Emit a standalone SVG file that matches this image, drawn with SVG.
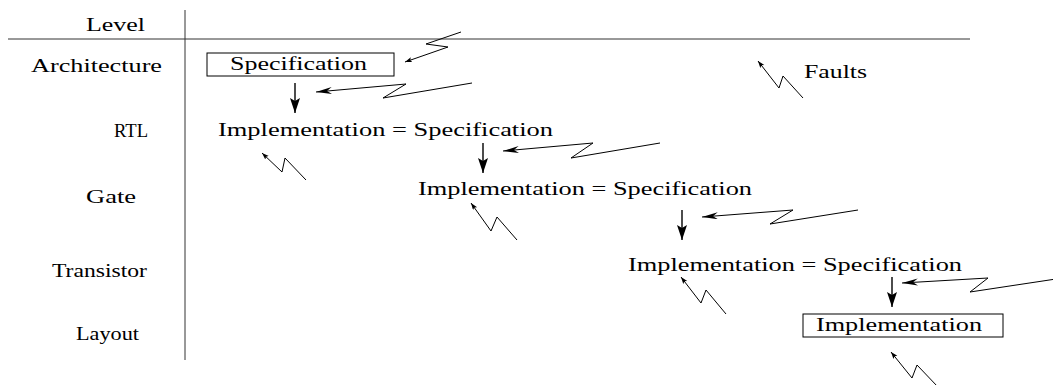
<svg xmlns="http://www.w3.org/2000/svg" width="1053" height="385" viewBox="0 0 1053 385">
<style>
text{font-family:"Liberation Serif","Times New Roman",serif;font-size:18px;fill:#000}
.ln{fill:none;stroke:#000;stroke-width:1}
.dn{fill:none;stroke:#000;stroke-width:1.4}
.box{fill:#fff;stroke:#000;stroke-width:1}
.ax{stroke:#333;stroke-width:1;fill:none}
</style>
<defs>
<marker id="big" markerUnits="userSpaceOnUse" markerWidth="18" markerHeight="8" refX="16" refY="3.5" orient="auto">
<path d="M0,0 L16,3.5 L0,7 L5,3.5 z" fill="#000"/>
</marker>
<marker id="down" markerUnits="userSpaceOnUse" markerWidth="16" markerHeight="11" refX="15" refY="5" orient="auto">
<path d="M0,0 L15,5 L0,10 L3,5 z" fill="#000"/>
</marker>
<marker id="small" markerUnits="userSpaceOnUse" markerWidth="8" markerHeight="6" refX="7" refY="2.5" orient="auto">
<path d="M0,0 L7,2.5 L0,5 L1.5,2.5 z" fill="#000"/>
</marker>
</defs>
<g id="axes">
<line class="ax" x1="8" y1="39" x2="970" y2="39"/>
<line class="ax" x1="185" y1="10" x2="185" y2="360"/>
</g>
<g id="levels">
<text x="86" y="31" textLength="59" lengthAdjust="spacingAndGlyphs">Level</text>
<text x="31" y="72" textLength="131" lengthAdjust="spacingAndGlyphs">Architecture</text>
<text x="114" y="137" textLength="34" lengthAdjust="spacingAndGlyphs">RTL</text>
<text x="86" y="203" textLength="50" lengthAdjust="spacingAndGlyphs">Gate</text>
<text x="52" y="277" textLength="95" lengthAdjust="spacingAndGlyphs">Transistor</text>
<text x="76" y="340" textLength="63" lengthAdjust="spacingAndGlyphs">Layout</text>
</g>
<g id="spec">
<rect class="box" x="207" y="53" width="187" height="23"/>
<text x="230" y="70" textLength="137" lengthAdjust="spacingAndGlyphs">Specification</text>
</g>
<g id="rtl">
<text x="218" y="136" textLength="335" lengthAdjust="spacingAndGlyphs">Implementation = Specification</text>
</g>
<g id="gate">
<text x="418" y="195" textLength="334" lengthAdjust="spacingAndGlyphs">Implementation = Specification</text>
</g>
<g id="transistor">
<text x="628" y="271" textLength="334" lengthAdjust="spacingAndGlyphs">Implementation = Specification</text>
</g>
<g id="layout">
<rect class="box" x="803" y="314" width="200" height="23"/>
<text x="816" y="331" textLength="166" lengthAdjust="spacingAndGlyphs">Implementation</text>
</g>
<g id="faults">
<text x="804" y="78" textLength="63" lengthAdjust="spacingAndGlyphs">Faults</text>
</g>
<g id="connectors">
<line class="dn" x1="295" y1="83" x2="295" y2="113" marker-end="url(#down)"/>
<line class="dn" x1="483" y1="143" x2="483" y2="173" marker-end="url(#down)"/>
<line class="dn" x1="682" y1="210" x2="682" y2="240" marker-end="url(#down)"/>
<line class="dn" x1="892" y1="277" x2="892" y2="307" marker-end="url(#down)"/>
<polyline class="ln" points="461,32 426,44 448,47 405,62" marker-end="url(#small)"/>
<polyline class="ln" points="472,83 383,98 406,84 316,92" marker-end="url(#big)"/>
<polyline class="ln" points="660,143 571,158 593,143 503,151" marker-end="url(#big)"/>
<polyline class="ln" points="858,210 770,224 793,210 702,217" marker-end="url(#big)"/>
<polyline class="ln" points="1056,279 970,292 988,278 902,283" marker-end="url(#big)"/>
<polyline class="ln" points="803,98 783,76 779,88 758,61" marker-end="url(#small)"/>
<polyline class="ln" points="306,180 285,158 282,172 262,153" marker-end="url(#small)"/>
<polyline class="ln" points="517,240 497,217 491,231 471,203" marker-end="url(#small)"/>
<polyline class="ln" points="726,314 706,290 701,303 681,277" marker-end="url(#small)"/>
<polyline class="ln" points="938,387 917,365 912,378 891,352" marker-end="url(#small)"/>
</g>
</svg>
